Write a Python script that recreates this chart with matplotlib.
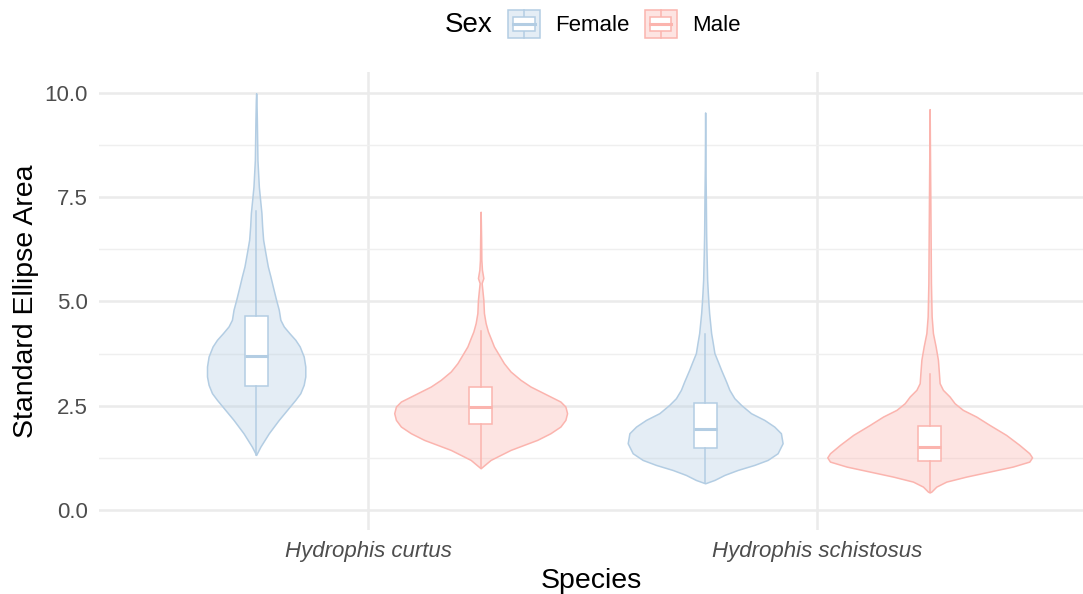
import numpy as np
import matplotlib
matplotlib.use("Agg")
import matplotlib.pyplot as plt
from matplotlib.patches import Patch, Rectangle
from matplotlib.lines import Line2D
from matplotlib.legend_handler import HandlerBase

plt.rcParams['font.family'] = ['Liberation Sans', 'DejaVu Sans']

# ---------------- data ----------------
species = ["Hydrophis curtus", "Hydrophis schistosus"]
sexes = ["Female", "Male"]

# violin density profiles (y value, relative density)
fc_y = [1.32, 1.52, 1.84, 2.16, 2.40, 2.64, 2.80, 3.00, 3.20, 3.44, 3.68, 3.92,
        4.08, 4.24, 4.40, 4.56, 4.80, 5.04, 5.36, 5.60, 5.84, 6.16, 6.48, 6.80,
        7.12, 7.43, 7.75, 8.07, 8.39, 8.87, 9.35, 9.83, 9.99]
fc_d = [0.0, 4.3, 12.7, 22.7, 31.0, 39.3, 44.3, 47.7, 49.3, 49.3, 47.7, 43.7,
        39.3, 33.3, 27.7, 24.3, 22.7, 20.0, 16.7, 14.3, 11.7, 9.3, 7.0, 6.0,
        5.3, 4.0, 2.7, 2.0, 1.3, 1.0, 0.7, 0.3, 0.0]

mc_y = [1.00, 1.08, 1.20, 1.32, 1.44, 1.56, 1.68, 1.84, 2.00, 2.16, 2.32, 2.48,
        2.60, 2.72, 2.84, 2.96, 3.12, 3.32, 3.52, 3.72, 3.92, 4.12, 4.28, 4.48,
        4.72, 5.04, 5.28, 5.44, 5.56, 5.76, 6.00, 6.47, 7.15]
mc_d = [0.0, 4.0, 10.0, 20.0, 30.0, 43.3, 56.7, 70.0, 80.0, 85.0, 86.7, 85.0,
        80.0, 70.0, 60.0, 50.0, 40.0, 30.0, 23.3, 18.3, 13.3, 10.0, 7.3, 5.0,
        3.3, 2.7, 1.7, 1.0, 2.7, 1.3, 0.7, 0.5, 0.0]

fs_y = [0.64, 0.72, 0.84, 0.96, 1.08, 1.20, 1.36, 1.60, 1.84, 2.00, 2.16, 2.32,
        2.52, 2.68, 2.88, 3.08, 3.36, 3.56, 3.76, 4.00, 4.24, 4.48, 4.72, 4.96,
        5.20, 5.52, 5.83, 6.24, 6.63, 7.43, 8.23, 9.53]
fs_d = [0.0, 9.3, 19.3, 32.7, 49.3, 62.7, 72.7, 77.7, 76.0, 69.3, 59.3, 46.0,
        36.0, 29.3, 24.3, 21.0, 16.0, 12.7, 9.3, 7.7, 6.0, 5.0, 4.0, 3.3,
        2.7, 2.0, 1.7, 1.3, 1.0, 0.7, 0.3, 0.0]

ms_y = [0.42, 0.44, 0.56, 0.68, 0.80, 0.92, 1.04, 1.16, 1.26, 1.36, 1.56, 1.80,
        2.04, 2.24, 2.40, 2.56, 2.72, 2.88, 3.04, 3.28, 3.60, 3.92, 4.24, 4.64,
        5.44, 7.43, 9.61]
ms_d = [0.0, 1.7, 6.7, 16.7, 36.7, 60.0, 83.3, 100.0, 102.7, 100.0, 90.0, 76.7,
        60.0, 46.7, 33.3, 25.0, 20.0, 13.3, 10.0, 9.3, 8.3, 6.0, 3.3, 2.0,
        1.3, 0.7, 0.0]

violin_y = [[fc_y, mc_y], [fs_y, ms_y]]
violin_d = [[fc_d, mc_d], [fs_d, ms_d]]

# boxplot statistics: [whislo, q1, median, q3, whishi]
box_fc = [1.32, 2.97, 3.69, 4.65, 7.17]
box_mc = [1.00, 2.05, 2.46, 2.94, 4.28]
box_fs = [0.64, 1.49, 1.93, 2.57, 4.21]
box_ms = [0.42, 1.18, 1.52, 2.01, 3.26]
box_stats = [[box_fc, box_mc], [box_fs, box_ms]]

y_ticks = [0.0, 2.5, 5.0, 7.5, 10.0]
y_tick_labels = ["0.0", "2.5", "5.0", "7.5", "10.0"]

# ---------------- style ----------------
line_cols = {"Female": "#B3CDE3", "Male": "#FBB4AE"}
fill_alpha = 0.35
dodge = 0.25
max_half_width = 0.228
box_width = 0.051

W, H = 1083, 594
fig = plt.figure(figsize=(W / 100, H / 100), dpi=100)
ax_left, ax_right, ax_top, ax_bottom = 99, 1083, 72, 530
ax = fig.add_axes([ax_left / W, 1 - ax_bottom / H, (ax_right - ax_left) / W,
                   (ax_bottom - ax_top) / H])

global_max = max(max(d) for row in violin_d for d in row)

for i, sp in enumerate(species):
    for j, sx in enumerate(sexes):
        pos = i + 1 + (-dodge if j == 0 else dodge)
        ys = np.array(violin_y[i][j], dtype=float)
        ds = np.array(violin_d[i][j], dtype=float)
        st = box_stats[i][j]
        vp = [{"coords": ys, "vals": ds, "mean": st[2], "median": st[2],
               "min": ys.min(), "max": ys.max()}]
        w = 2 * max_half_width * ds.max() / global_max
        parts = ax.violin(vp, positions=[pos], widths=[w], showmeans=False,
                          showextrema=False, showmedians=False)
        col = matplotlib.colors.to_rgba(line_cols[sx])
        for b in parts["bodies"]:
            b.set_alpha(None)
            b.set_facecolor((col[0], col[1], col[2], fill_alpha))
            b.set_edgecolor((col[0], col[1], col[2], 1.0))
            b.set_linewidth(1.1)
            b.set_joinstyle("round")
            b.set_zorder(2)
        bstat = [{"whislo": st[0], "q1": st[1], "med": st[2], "q3": st[3],
                  "whishi": st[4], "fliers": []}]
        ax.bxp(bstat, positions=[pos], widths=box_width, patch_artist=True,
               showcaps=False, showfliers=False,
               boxprops=dict(facecolor="white", edgecolor=line_cols[sx], linewidth=1.1),
               whiskerprops=dict(color=line_cols[sx], linewidth=1.1),
               medianprops=dict(color=line_cols[sx], linewidth=2.2,
                                solid_capstyle="butt"),
               zorder=3, manage_ticks=False)

ax.set_xlim(0.4, 0.4 + (ax_right - ax_left) / 449.0)
ax.set_ylim(-0.48, 10.5)
ax.set_xticks([1, 2])
ax.set_xticklabels(species, fontstyle="italic", fontsize=16, color="#4D4D4D")
ax.set_yticks(y_ticks)
ax.set_yticklabels(y_tick_labels, fontsize=16, color="#4D4D4D")
ax.set_yticks([1.25, 3.75, 6.25, 8.75], minor=True)
ax.tick_params(axis="both", which="both", length=0)
ax.tick_params(axis="y", pad=8)
ax.tick_params(axis="x", pad=8)
ax.grid(True, which="major", color="#EBEBEB", linewidth=1.8, zorder=0)
ax.grid(True, which="minor", axis="y", color="#EFEFEF", linewidth=1.0, zorder=0)
ax.set_axisbelow(True)
for s in ax.spines.values():
    s.set_visible(False)

ax.set_xlabel("Species", fontsize=20.5, color="black", labelpad=4)
ax.set_ylabel("Standard Ellipse Area", fontsize=20.5, color="black", labelpad=4)


# ---------------- legend ----------------
class BoxKeyHandler(HandlerBase):
    def create_artists(self, legend, orig_handle, xdescent, ydescent, width,
                       height, fontsize, trans):
        ec = orig_handle.get_edgecolor()
        fc = orig_handle.get_facecolor()
        x0, y0 = -xdescent, -ydescent
        outer = Rectangle((x0, y0), width, height, facecolor=fc, edgecolor=ec,
                          linewidth=1.1, transform=trans)
        inner = Rectangle((x0 + 0.16 * width, y0 + 0.25 * height), 0.68 * width,
                          0.5 * height, facecolor="white", edgecolor=ec,
                          linewidth=1.1, transform=trans)
        cx = x0 + width / 2
        med = Line2D([x0 + 0.16 * width, x0 + 0.84 * width],
                     [y0 + 0.5 * height] * 2, color=ec, linewidth=2.2,
                     transform=trans)
        w1 = Line2D([cx, cx], [y0, y0 + 0.25 * height], color=ec, linewidth=1.1,
                    transform=trans)
        w2 = Line2D([cx, cx], [y0 + 0.75 * height, y0 + height], color=ec,
                    linewidth=1.1, transform=trans)
        return [outer, w1, w2, inner, med]


handles = []
for sx in sexes:
    col = matplotlib.colors.to_rgba(line_cols[sx])
    handles.append(Patch(facecolor=(col[0], col[1], col[2], fill_alpha),
                         edgecolor=line_cols[sx], label=sx))

fig.text(445 / W, 1 - 25 / H, "Sex", fontsize=20, ha="left", va="center")
leg = fig.legend(handles=handles, labels=sexes, ncol=2, loc="center left",
                 bbox_to_anchor=(508 / W, 1 - 24 / H), frameon=False,
                 fontsize=16, handlelength=1.44, handleheight=1.6,
                 handletextpad=0.68, columnspacing=0.68, borderpad=0,
                 borderaxespad=0, handler_map={Patch: BoxKeyHandler()})

fig.savefig("out.png", dpi=100, facecolor="white")
